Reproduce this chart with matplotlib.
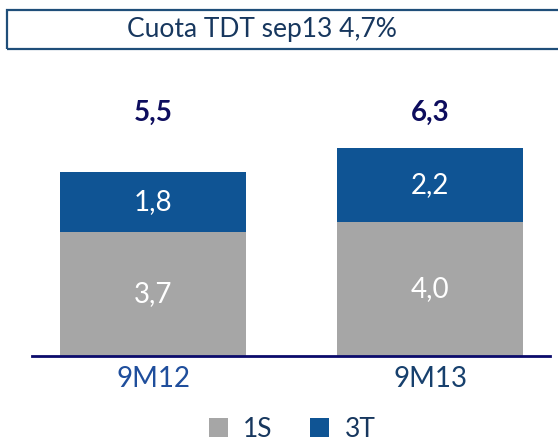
import matplotlib
matplotlib.use("Agg")
import matplotlib.pyplot as plt
from matplotlib.patches import Rectangle

plt.rcParams['font.family'] = ['Lato', 'DejaVu Sans']

categories = ["9M12", "9M13"]
s1 = [3.7, 4.0]
s3 = [1.8, 2.2]
totals = [5.5, 6.3]
s1_labels = ["3,7", "4,0"]
s3_labels = ["1,8", "2,2"]
total_labels = ["5,5", "6,3"]
legend_labels = ["1S", "3T"]
title = "Cuota TDT sep13 4,7%"

W, H = 558, 444
fig = plt.figure(figsize=(W / 100, H / 100), dpi=100)

left, right, base = 32, 550, 356
px_per_unit = 33.5
ymax = 7.0
top = base - ymax * px_per_unit
ax = fig.add_axes([left / W, (H - base) / H, (right - left) / W, (base - top) / H])

gray = "#A6A6A6"
blue = "#0F5494"
x = list(range(len(categories)))
width = 0.67
b1 = ax.bar(x, s1, width=width, color=gray, label=legend_labels[0])
b3 = ax.bar(x, s3, width=width, bottom=s1, color=blue, label=legend_labels[1])

ax.set_xlim(-0.437, 1.433)
ax.set_ylim(0, ymax)
for sp in ["top", "right", "left"]:
    ax.spines[sp].set_visible(False)
ax.spines["bottom"].set_color("#0B0B6B")
ax.spines["bottom"].set_linewidth(2)
ax.set_yticks([])
ax.set_xticks(x)
ax.set_xticklabels(categories, fontsize=20)
ax.tick_params(axis="x", length=0, pad=7)
cat_colors = ["#1F4E9C", "#17406D"]
for t, c in zip(ax.get_xticklabels(), cat_colors):
    t.set_color(c)

for i in x:
    ax.text(i, s1[i] / 2, s1_labels[i], ha="center", va="center",
            color="white", fontsize=20)
    ax.text(i, s1[i] + s3[i] / 2, s3_labels[i], ha="center", va="center",
            color="white", fontsize=20)
    ax.text(i, 7.25, total_labels[i], ha="center", va="center",
            color="#0D0D5E", fontsize=20, fontweight="bold", clip_on=False)

rect = Rectangle((7 / W, (H - 49) / H), (600 - 7) / W, 39 / H,
                 transform=fig.transFigure, fill=False, edgecolor="#1F4E79",
                 linewidth=1.6, clip_on=False)
fig.patches.append(rect)
fig.text(262 / W, (H - 30) / H, title, ha="center", va="center",
         fontsize=19, color="#17375E")

leg = fig.legend(handles=[b1, b3], labels=legend_labels, loc="center",
                 bbox_to_anchor=(292 / W, (H - 429) / H), ncol=2, frameon=False,
                 fontsize=19, handlelength=0.72, handleheight=0.72,
                 handletextpad=0.6, columnspacing=1.4, borderpad=0.1)
for t in leg.get_texts():
    t.set_color("#17375E")

fig.savefig("out.png", dpi=100)
